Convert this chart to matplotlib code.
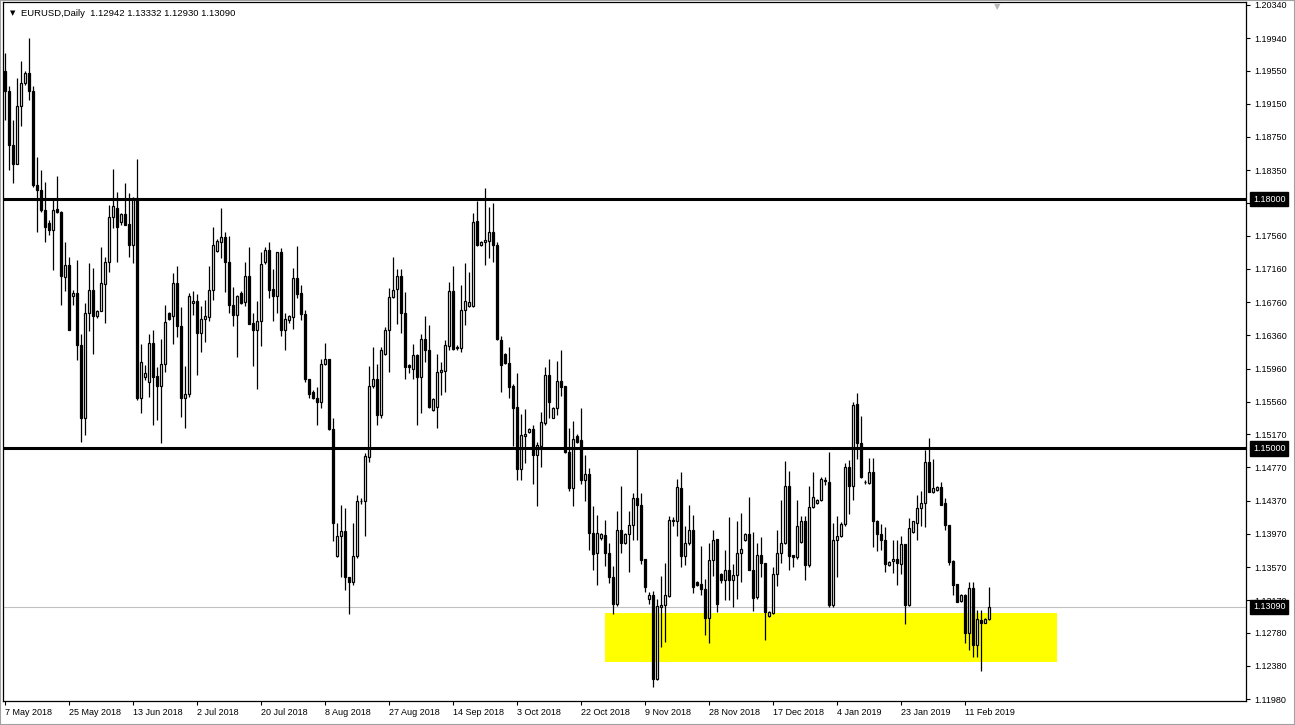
import matplotlib
matplotlib.use("Agg")
import matplotlib.pyplot as plt
import matplotlib.transforms as mtrans
from matplotlib.patches import Rectangle
import numpy as np
import pandas as pd

# daily bars incl. sunday bars (MT4 broker feed), 7 May 2018 .. 18 Feb 2019
dates = pd.date_range("2018-05-07", "2019-02-18")
dates = dates[dates.weekday != 5]

opens = [
    1.1955, 1.1930, 1.1865, 1.1843, 1.1912, 1.1940,
    1.1952, 1.1930, 1.1817, 1.1811, 1.1787, 1.1771,
    1.1763, 1.1788, 1.1785, 1.1706, 1.1721, 1.1683,
    1.1687, 1.1624, 1.1536, 1.1663, 1.1691, 1.1659,
    1.1665, 1.1698, 1.1724, 1.1779, 1.1790, 1.1772,
    1.1782, 1.1770, 1.1745, 1.1801, 1.1561, 1.1586,
    1.1580, 1.1627, 1.1587, 1.1575, 1.1602, 1.1663,
    1.1659, 1.1699, 1.1647, 1.1561, 1.1566, 1.1675,
    1.1677, 1.1639, 1.1656, 1.1658, 1.1691, 1.1738,
    1.1749, 1.1754, 1.1725, 1.1673, 1.1661, 1.1687,
    1.1676, 1.1707, 1.1651, 1.1643, 1.1653, 1.1724,
    1.1739, 1.1692, 1.1683, 1.1737, 1.1642, 1.1654,
    1.1658, 1.1705, 1.1687, 1.1662, 1.1583, 1.1568,
    1.1560, 1.1556, 1.1602, 1.1607, 1.1523, 1.1370,
    1.1394, 1.1400, 1.1345, 1.1339, 1.1370, 1.1436,
    1.1436, 1.1490, 1.1575, 1.1584, 1.1540, 1.1614,
    1.1643, 1.1682, 1.1692, 1.1708, 1.1663, 1.1600,
    1.1596, 1.1612, 1.1586, 1.1632, 1.1618, 1.1546,
    1.1550, 1.1592, 1.1593, 1.1623, 1.1689, 1.1621,
    1.1621, 1.1667, 1.1672, 1.1671, 1.1774, 1.1745,
    1.1748, 1.1750, 1.1761, 1.1745, 1.1630, 1.1614,
    1.1603, 1.1575, 1.1550, 1.1475, 1.1515, 1.1520,
    1.1523, 1.1492, 1.1503, 1.1531, 1.1588, 1.1537,
    1.1548, 1.1581, 1.1575, 1.1496, 1.1452, 1.1515,
    1.1510, 1.1462, 1.1469, 1.1398, 1.1374, 1.1392,
    1.1396, 1.1374, 1.1345, 1.1313, 1.1402, 1.1386,
    1.1397, 1.1408, 1.1440, 1.1432, 1.1367, 1.1318,
    1.1323, 1.1222, 1.1309, 1.1311, 1.1322, 1.1413,
    1.1412, 1.1452, 1.1370, 1.1386, 1.1402, 1.1339,
    1.1336, 1.1331, 1.1296, 1.1366, 1.1391, 1.1349,
    1.1341, 1.1353, 1.1341, 1.1347, 1.1374, 1.1389,
    1.1397, 1.1354, 1.1321, 1.1371, 1.1362, 1.1298,
    1.1302, 1.1349, 1.1374, 1.1386, 1.1455, 1.1371,
    1.1369, 1.1387, 1.1412, 1.1359, 1.1429, 1.1434,
    1.1438, 1.1462, 1.1459, 1.1311, 1.1390, 1.1394,
    1.1409, 1.1477, 1.1455, 1.1553, 1.1506, 1.1460,
    1.1458, 1.1471, 1.1413, 1.1397, 1.1390, 1.1359,
    1.1364, 1.1367, 1.1361, 1.1385, 1.1311, 1.1399,
    1.1410, 1.1428, 1.1434, 1.1484, 1.1447, 1.1450,
    1.1453, 1.1434, 1.1408, 1.1364, 1.1336, 1.1316,
    1.1323, 1.1277, 1.1332, 1.1263, 1.1293, 1.1290,
    1.12942,
]
highs = [
    1.1976, 1.1936, 1.1896, 1.1946, 1.1966, 1.1954,
    1.1994, 1.1936, 1.1851, 1.1835, 1.1821, 1.1775,
    1.1799, 1.1828, 1.1786, 1.1749, 1.1731, 1.1691,
    1.1727, 1.1638, 1.1675, 1.1723, 1.1717, 1.1667,
    1.1743, 1.1731, 1.1793, 1.1837, 1.1809, 1.1784,
    1.1819, 1.1808, 1.1803, 1.1849, 1.1626, 1.1600,
    1.1638, 1.1642, 1.1598, 1.1632, 1.1673, 1.1664,
    1.1711, 1.1719, 1.1670, 1.1599, 1.1687, 1.1690,
    1.1686, 1.1671, 1.1679, 1.1719, 1.1767, 1.1752,
    1.1789, 1.1761, 1.1756, 1.1694, 1.1685, 1.1690,
    1.1724, 1.1743, 1.1663, 1.1677, 1.1737, 1.1743,
    1.1749, 1.1716, 1.1737, 1.1741, 1.1663, 1.1661,
    1.1717, 1.1744, 1.1697, 1.1667, 1.1583, 1.1570,
    1.1574, 1.1607, 1.1627, 1.1607, 1.1536, 1.1410,
    1.1432, 1.1428, 1.1345, 1.1410, 1.1444, 1.1440,
    1.1494, 1.1599, 1.1622, 1.1602, 1.1622, 1.1646,
    1.1693, 1.1731, 1.1716, 1.1716, 1.1688, 1.1601,
    1.1626, 1.1614, 1.1638, 1.1659, 1.1649, 1.1560,
    1.1614, 1.1604, 1.1630, 1.1700, 1.1720, 1.1624,
    1.1697, 1.1723, 1.1712, 1.1783, 1.1798, 1.1750,
    1.1813, 1.1791, 1.1795, 1.1749, 1.1635, 1.1615,
    1.1622, 1.1578, 1.1591, 1.1541, 1.1547, 1.1525,
    1.1528, 1.1508, 1.1544, 1.1598, 1.1608, 1.1550,
    1.1605, 1.1619, 1.1575, 1.1525, 1.1533, 1.1517,
    1.1548, 1.1492, 1.1476, 1.1431, 1.1420, 1.1398,
    1.1414, 1.1386, 1.1358, 1.1424, 1.1455, 1.1398,
    1.1424, 1.1446, 1.1500, 1.1446, 1.1367, 1.1327,
    1.1328, 1.1319, 1.1346, 1.1362, 1.1418, 1.1417,
    1.1463, 1.1471, 1.1406, 1.1432, 1.1420, 1.1340,
    1.1382, 1.1342, 1.1386, 1.1401, 1.1391, 1.1350,
    1.1378, 1.1417, 1.1361, 1.1412, 1.1422, 1.1398,
    1.1441, 1.1399, 1.1386, 1.1393, 1.1362, 1.1304,
    1.1357, 1.1402, 1.1438, 1.1485, 1.1473, 1.1372,
    1.1438, 1.1419, 1.1418, 1.1454, 1.1472, 1.1439,
    1.1466, 1.1466, 1.1496, 1.1410, 1.1418, 1.1411,
    1.1482, 1.1486, 1.1556, 1.1567, 1.1539, 1.1462,
    1.1488, 1.1488, 1.1414, 1.1409, 1.1405, 1.1364,
    1.1390, 1.1389, 1.1394, 1.1385, 1.1416, 1.1413,
    1.1444, 1.1449, 1.1498, 1.1512, 1.1487, 1.1454,
    1.1460, 1.1440, 1.1408, 1.1366, 1.1337, 1.1324,
    1.1324, 1.1339, 1.1339, 1.1305, 1.1305, 1.1295,
    1.13332,
]
lows = [
    1.1896, 1.1835, 1.1819, 1.1843, 1.1888, 1.1938,
    1.1920, 1.1815, 1.1761, 1.1785, 1.1749, 1.1757,
    1.1715, 1.1784, 1.1673, 1.1689, 1.1643, 1.1673,
    1.1606, 1.1508, 1.1516, 1.1641, 1.1614, 1.1657,
    1.1665, 1.1651, 1.1712, 1.1765, 1.1725, 1.1769,
    1.1769, 1.1731, 1.1723, 1.1558, 1.1542, 1.1582,
    1.1562, 1.1528, 1.1534, 1.1506, 1.1592, 1.1654,
    1.1626, 1.1634, 1.1538, 1.1525, 1.1562, 1.1660,
    1.1588, 1.1616, 1.1628, 1.1653, 1.1679, 1.1737,
    1.1729, 1.1688, 1.1663, 1.1647, 1.1610, 1.1674,
    1.1672, 1.1650, 1.1599, 1.1572, 1.1623, 1.1722,
    1.1681, 1.1653, 1.1663, 1.1635, 1.1618, 1.1651,
    1.1644, 1.1681, 1.1655, 1.1580, 1.1560, 1.1559,
    1.1528, 1.1548, 1.1600, 1.1522, 1.1388, 1.1369,
    1.1345, 1.1329, 1.1301, 1.1335, 1.1368, 1.1433,
    1.1394, 1.1484, 1.1573, 1.1528, 1.1536, 1.1612,
    1.1592, 1.1681, 1.1650, 1.1639, 1.1583, 1.1591,
    1.1583, 1.1528, 1.1542, 1.1604, 1.1548, 1.1545,
    1.1524, 1.1564, 1.1568, 1.1619, 1.1619, 1.1619,
    1.1616, 1.1649, 1.1670, 1.1670, 1.1744, 1.1744,
    1.1721, 1.1729, 1.1724, 1.1630, 1.1568, 1.1601,
    1.1561, 1.1503, 1.1462, 1.1462, 1.1482, 1.1518,
    1.1457, 1.1430, 1.1478, 1.1528, 1.1536, 1.1536,
    1.1540, 1.1563, 1.1494, 1.1448, 1.1430, 1.1506,
    1.1457, 1.1437, 1.1377, 1.1354, 1.1335, 1.1390,
    1.1358, 1.1338, 1.1301, 1.1310, 1.1374, 1.1385,
    1.1351, 1.1390, 1.1390, 1.1361, 1.1327, 1.1313,
    1.1213, 1.1221, 1.1261, 1.1267, 1.1321, 1.1406,
    1.1394, 1.1357, 1.1359, 1.1383, 1.1326, 1.1334,
    1.1323, 1.1275, 1.1266, 1.1346, 1.1303, 1.1338,
    1.1317, 1.1317, 1.1309, 1.1319, 1.1339, 1.1388,
    1.1353, 1.1304, 1.1318, 1.1345, 1.1269, 1.1297,
    1.1301, 1.1334, 1.1362, 1.1385, 1.1354, 1.1357,
    1.1367, 1.1386, 1.1341, 1.1357, 1.1428, 1.1433,
    1.1437, 1.1456, 1.1309, 1.1309, 1.1345, 1.1393,
    1.1406, 1.1421, 1.1438, 1.1487, 1.1464, 1.1457,
    1.1457, 1.1381, 1.1376, 1.1377, 1.1351, 1.1358,
    1.1350, 1.1335, 1.1349, 1.1288, 1.1310, 1.1398,
    1.1389, 1.1406, 1.1405, 1.1447, 1.1446, 1.1449,
    1.1432, 1.1402, 1.1359, 1.1323, 1.1315, 1.1315,
    1.1266, 1.1257, 1.1248, 1.1248, 1.1232, 1.1289,
    1.12930,
]
closes = [
    1.1930, 1.1865, 1.1843, 1.1912, 1.1940, 1.1952,
    1.1930, 1.1817, 1.1811, 1.1787, 1.1767, 1.1763,
    1.1787, 1.1785, 1.1707, 1.1721, 1.1643, 1.1687,
    1.1624, 1.1536, 1.1663, 1.1691, 1.1659, 1.1665,
    1.1699, 1.1724, 1.1779, 1.1792, 1.1766, 1.1782,
    1.1769, 1.1745, 1.1801, 1.1560, 1.1604, 1.1591,
    1.1627, 1.1586, 1.1575, 1.1602, 1.1652, 1.1656,
    1.1699, 1.1647, 1.1561, 1.1566, 1.1683, 1.1678,
    1.1639, 1.1656, 1.1659, 1.1691, 1.1745, 1.1750,
    1.1754, 1.1725, 1.1673, 1.1661, 1.1683, 1.1675,
    1.1707, 1.1650, 1.1643, 1.1653, 1.1722, 1.1739,
    1.1691, 1.1683, 1.1737, 1.1642, 1.1656, 1.1659,
    1.1705, 1.1686, 1.1662, 1.1583, 1.1565, 1.1560,
    1.1556, 1.1602, 1.1607, 1.1523, 1.1410, 1.1394,
    1.1400, 1.1345, 1.1339, 1.1370, 1.1436, 1.1437,
    1.1491, 1.1575, 1.1584, 1.1540, 1.1619, 1.1643,
    1.1682, 1.1691, 1.1708, 1.1663, 1.1598, 1.1598,
    1.1612, 1.1586, 1.1632, 1.1618, 1.1550, 1.1559,
    1.1592, 1.1594, 1.1624, 1.1689, 1.1620, 1.1622,
    1.1667, 1.1677, 1.1676, 1.1773, 1.1745, 1.1748,
    1.1751, 1.1761, 1.1745, 1.1632, 1.1600, 1.1603,
    1.1574, 1.1548, 1.1475, 1.1516, 1.1517, 1.1523,
    1.1492, 1.1504, 1.1532, 1.1588, 1.1556, 1.1548,
    1.1581, 1.1574, 1.1496, 1.1452, 1.1511, 1.1508,
    1.1462, 1.1469, 1.1398, 1.1373, 1.1398, 1.1397,
    1.1374, 1.1345, 1.1313, 1.1402, 1.1386, 1.1397,
    1.1408, 1.1440, 1.1432, 1.1366, 1.1333, 1.1323,
    1.1222, 1.1310, 1.1311, 1.1323, 1.1414, 1.1414,
    1.1453, 1.1370, 1.1386, 1.1402, 1.1333, 1.1335,
    1.1331, 1.1296, 1.1366, 1.1390, 1.1313, 1.1341,
    1.1353, 1.1341, 1.1347, 1.1374, 1.1379, 1.1397,
    1.1354, 1.1320, 1.1372, 1.1362, 1.1303, 1.1303,
    1.1349, 1.1374, 1.1386, 1.1455, 1.1370, 1.1369,
    1.1406, 1.1412, 1.1359, 1.1429, 1.1441, 1.1438,
    1.1463, 1.1461, 1.1311, 1.1390, 1.1394, 1.1409,
    1.1477, 1.1455, 1.1552, 1.1506, 1.1465, 1.1459,
    1.1471, 1.1413, 1.1397, 1.1390, 1.1361, 1.1363,
    1.1367, 1.1362, 1.1385, 1.1311, 1.1404, 1.1412,
    1.1428, 1.1434, 1.1484, 1.1447, 1.1452, 1.1453,
    1.1432, 1.1408, 1.1363, 1.1335, 1.1315, 1.1323,
    1.1277, 1.1332, 1.1263, 1.1294, 1.1290, 1.1294,
    1.13090,
]

price_ticks = [1.20340, 1.19940, 1.19550, 1.19150, 1.18750, 1.18350, 1.17950,
               1.17560, 1.17160, 1.16760, 1.16360, 1.15960, 1.15560, 1.15170,
               1.14770, 1.14370, 1.13970, 1.13570, 1.13170, 1.12780, 1.12380,
               1.11980]

levels = [1.18000, 1.15000]      # horizontal lines drawn on chart
bid = 1.13090
zone_low, zone_high = 1.1242, 1.1302   # yellow support box
zone_start = "2018-10-29"
zone_len = 113                     # bars, box runs into the future

W, H = 1295, 725
plt.rcParams["font.family"] = ["Liberation Sans", "DejaVu Sans"]
fig = plt.figure(figsize=(W / 100, H / 100), dpi=100)
fig.patch.set_facecolor("white")
ax = fig.add_axes([3 / W, 1 - 701 / H, 1243 / W, 699 / H])

o = np.array(opens)
h = np.array(highs)
l = np.array(lows)
c = np.array(closes)
x = np.arange(len(dates))
up = c >= o

ax.vlines(x, l, h, color="black", lw=0.9, zorder=3)
ax.bar(x[up], (c - o)[up], bottom=o[up], width=0.55, color="white",
       edgecolor="black", lw=0.9, zorder=4)
ax.bar(x[~up], (o - c)[~up], bottom=c[~up], width=0.55, color="black",
       edgecolor="black", lw=0.9, zorder=4)

# support zone
zs = int(np.where(dates == pd.Timestamp(zone_start))[0][0])
ax.add_patch(Rectangle((zs, zone_low), zone_len, zone_high - zone_low,
                       facecolor="#ffff00", edgecolor="none", zorder=1))

for lv in levels:
    ax.axhline(lv, color="black", lw=2.2, zorder=5)
ax.axhline(bid, color="#c0c0c0", lw=0.8, zorder=2)

ax.set_xlim(-0.5, 310.25)
ax.set_ylim(1.11956, 1.20376)

# price scale on the right
ax.yaxis.tick_right()
ax.set_yticks(price_ticks)
ax.set_yticklabels([f"{p:.5f}" for p in price_ticks])
ax.tick_params(axis="y", direction="out", length=3, width=0.8, pad=3,
               labelsize=6.5, colors="black")

# date scale
step = 16
ax.set_xticks(x[::step])
ax.set_xticklabels([f"{d.day} {d.strftime('%b %Y')}" for d in dates[::step]],
                   ha="left")
ax.tick_params(axis="x", direction="out", length=3, width=0.8, pad=2,
               labelsize=6.5)

for sp in ax.spines.values():
    sp.set_linewidth(0.9)
    sp.set_color("black")

# black price tags
tr = mtrans.blended_transform_factory(ax.transAxes, ax.transData)
for lv in levels + [bid]:
    ax.text(1.0055, lv, f"{lv:.5f}", transform=tr, color="white", fontsize=6.5,
            va="center", ha="left", clip_on=False, zorder=10,
            bbox=dict(facecolor="black", edgecolor="black",
                      boxstyle="square,pad=0.3"))

# header
fig.text(10 / W, 1 - 13 / H, "\u25bc", fontsize=5, va="center",
         family="DejaVu Sans")
fig.text(21 / W, 1 - 13 / H,
         f"EURUSD,Daily  {opens[-1]:.5f} {highs[-1]:.5f} {lows[-1]:.5f} {closes[-1]:.5f}",
         fontsize=6.8, va="center")
fig.text(997 / W, 1 - 7 / H, "\u25bc", fontsize=6, va="center", ha="center",
         color="#b8b8b8", family="DejaVu Sans")

fig.patches.append(Rectangle((0, 0), 1, 1, transform=fig.transFigure,
                             fill=False, edgecolor="#a0a0a0", lw=1.5))

fig.savefig("out.png", dpi=100)
